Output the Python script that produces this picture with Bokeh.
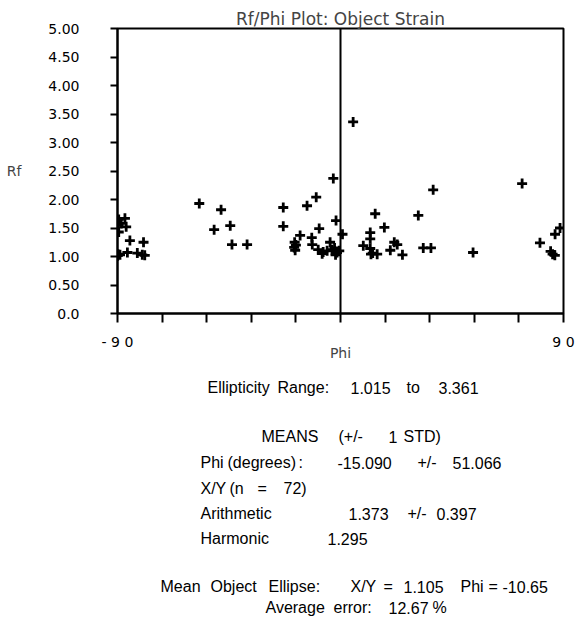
from bokeh.plotting import figure
from bokeh.models import Range1d, FixedTicker, Span, ColumnDataSource
from bokeh.layouts import column
from bokeh.embed import file_html
from bokeh.resources import INLINE
from bokeh.core.properties import value

# ---- data ----
phi = [-89.5, -87.0, -88.5, -86.5, -89.5, -85.0, -79.5, -89.8, -89.0, -86.0, -82.0, -80.0, -79.0, -89.6, -89.9,
       -57.0, -48.2, -51.0, -44.5, -43.8, -37.7,
       -23.1, -23.1, -13.5, -9.8, -2.9, -8.6, -1.8, -16.3, -18.5, -18.7, -18.3, -11.6, -11.4, -9.0, -7.4,
       -4.2, -5.4, -3.4, -2.4, -1.4, -2.0, -0.5, -7.0, -18.0,
       0.8, 5.1, 9.2, 12.0, 12.0, 12.0, 12.3, 14.8, 14.0, 17.7, 20.1, 21.7, 22.9, 25.0, 31.4, 37.4, 33.4, 36.5, 13.0,
       53.5, 73.3, 80.5, 84.8, 85.6, 86.5, 86.6, 88.6]
rf = [1.65, 1.67, 1.58, 1.52, 1.43, 1.28, 1.25, 1.04, 1.03, 1.07, 1.06, 1.03, 1.02, 1.55, 1.015,
      1.93, 1.82, 1.47, 1.54, 1.21, 1.21,
      1.86, 1.53, 1.89, 2.04, 2.37, 1.49, 1.63, 1.37, 1.25, 1.16, 1.11, 1.33, 1.21, 1.12, 1.05,
      1.25, 1.10, 1.12, 1.15, 1.07, 1.03, 1.10, 1.08, 1.20,
      1.39, 3.361, 1.19, 1.42, 1.31, 1.14, 1.04, 1.04, 1.75, 1.51, 1.11, 1.25, 1.21, 1.03, 1.72, 2.17, 1.15, 1.15, 1.06,
      1.07, 2.28, 1.24, 1.09, 1.04, 1.02, 1.39, 1.50]

y_ticks = [0.0, 0.5, 1.0, 1.5, 2.0, 2.5, 3.0, 3.5, 4.0, 4.5, 5.0]
y_tick_labels = ["0.0", "0.50", "1.00", "1.50", "2.00", "2.50", "3.00", "3.50", "4.00", "4.50", "5.00"]
x_ticks = [-90, -72, -54, -36, -18, 0, 18, 36, 54, 72, 90]
x_tick_labels = ["- 9 0", "", "", "", "", "", "", "", "", "", "9 0"]

title_text = "Rf/Phi Plot: Object Strain"
x_label = "Phi"
y_label = "Rf"

# summary text, word by word
summary_text = ["Ellipticity", "Range:", "1.015", "to", "3.361",
                "MEANS", "(+/-", "1", "STD)",
                "Phi", "(degrees)", ":", "-15.090", "+/-", "51.066",
                "X/Y", "(n", "=", "72)",
                "Arithmetic", "1.373", "+/-", "0.397",
                "Harmonic", "1.295",
                "Mean", "Object", "Ellipse:", "X/Y", "=", "1.105", "Phi", "=", "-10.65",
                "Average", "error:", "12.67", "%"]
summary_x = [207, 277, 350, 406, 438,
             261, 338, 388, 403,
             200, 227, 298, 337, 417, 452,
             200, 229, 257, 283,
             200, 348, 407, 436,
             200, 327,
             160, 210, 268, 350, 383, 403, 460, 488, 502,
             265, 333, 388, 432]
summary_y = [387] * 5 + [436] * 4 + [462] * 6 + [488] * 4 + [513] * 4 + [538] * 2 + [586] * 9 + [607] * 4

FONT = "DejaVu Sans"
TEXT_FONT = "Liberation Sans"

p = figure(width=577, height=370, x_range=Range1d(-90, 90), y_range=Range1d(0, 5),
           output_backend="svg", toolbar_location=None,
           min_border_left=117, min_border_right=14, min_border_top=28, min_border_bottom=57,
           title=title_text)
p.title.align = "center"
p.title.text_font = FONT
p.title.text_font_size = "17px"
p.title.text_font_style = "normal"
p.title.standoff = 0
p.grid.visible = False
p.outline_line_color = "black"
p.outline_line_width = 2
p.outline_line_alpha = 1
p.background_fill_color = "white"
p.border_fill_color = "white"

xa = p.xaxis[0]
xa.ticker = FixedTicker(ticks=x_ticks, minor_ticks=[])
xa.major_label_overrides = dict(zip(x_ticks, x_tick_labels))
xa.axis_label = x_label
xa.axis_label_text_font = FONT
xa.axis_label_text_font_size = "14px"
xa.axis_label_text_font_style = "normal"
xa.axis_label_standoff = -8
xa.major_label_text_font = FONT
xa.major_label_text_font_size = "14px"
xa.major_label_text_color = "black"
xa.major_label_standoff = 11
xa.major_tick_out = 9
xa.major_tick_in = 0
xa.axis_line_width = 2
xa.major_tick_line_width = 2
xa.axis_line_color = "black"
xa.major_tick_line_color = "black"

ya = p.yaxis[0]
ya.ticker = FixedTicker(ticks=y_ticks, minor_ticks=[])
ya.major_label_overrides = dict(zip(y_ticks, y_tick_labels))
ya.axis_label = y_label
ya.axis_label_orientation = "horizontal"
ya.axis_label_text_font = FONT
ya.axis_label_text_font_size = "14px"
ya.axis_label_text_font_style = "normal"
ya.axis_label_standoff = 24
ya.major_label_text_font = FONT
ya.major_label_text_font_size = "14px"
ya.major_label_text_color = "black"
ya.major_label_standoff = 31
ya.major_tick_out = 7
ya.major_tick_in = 0
ya.axis_line_width = 2
ya.major_tick_line_width = 2
ya.axis_line_color = "black"
ya.major_tick_line_color = "black"

p.add_layout(Span(location=0, dimension="height", line_color="black", line_width=2))

src = ColumnDataSource(data=dict(phi=phi, rf=rf))
p.scatter("phi", "rf", source=src, marker="cross", size=10, line_width=2.8, line_color="black")

# summary panel below the plot; its frame is aligned with the plot frame (x 117..563 px)
p2 = figure(width=577, height=255, x_range=Range1d(117, 563), y_range=Range1d(625, 370),
            output_backend="svg", toolbar_location=None, x_axis_type=None, y_axis_type=None,
            min_border_left=0, min_border_right=0, min_border_top=0, min_border_bottom=0)
p2.grid.visible = False
p2.outline_line_color = None
p2.background_fill_color = "white"
p2.border_fill_color = "white"
tsrc = ColumnDataSource(data=dict(x=summary_x, y=summary_y, t=summary_text))
p2.text("x", "y", text="t", source=tsrc, text_font=value(TEXT_FONT), text_font_size="16px",
        text_align="left", text_baseline="middle", text_color="black")

layout = column(p, p2, spacing=0)
open("out.html", "w").write(file_html(layout, INLINE))
